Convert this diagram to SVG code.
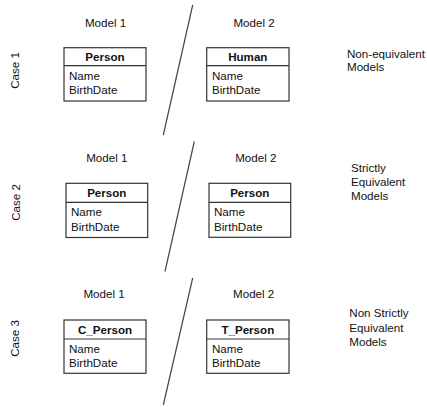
<svg xmlns="http://www.w3.org/2000/svg" width="427" height="407" viewBox="0 0 427 407">
<style>
text{font-family:"Liberation Sans",Arial,sans-serif;font-size:11.6px;fill:#111}
.b{font-weight:bold;text-anchor:middle}
.m{text-anchor:middle}
.box{fill:#fff;stroke:#333;stroke-width:1.2}
.sep{stroke:#333;stroke-width:1.2}
.div{stroke:#444;stroke-width:1.2}
</style>
<rect width="427" height="407" fill="#fff"/>
<g id="connectors">
<line class="div" x1="192.7" y1="5" x2="163.3" y2="135"/>
<line class="div" x1="194.3" y1="141.5" x2="165" y2="271.5"/>
<line class="div" x1="192.7" y1="278" x2="163.3" y2="405"/>
</g>
<g id="labels">
<text class="m" transform="translate(19,70.5) rotate(-90)">Case 1</text>
<text class="m" transform="translate(20,202.5) rotate(-90)">Case 2</text>
<text class="m" transform="translate(19,338.5) rotate(-90)">Case 3</text>
<text class="m" x="105.5" y="27">Model 1</text>
<text class="m" x="254" y="27">Model 2</text>
<text class="m" x="106.8" y="162">Model 1</text>
<text class="m" x="255.8" y="162">Model 2</text>
<text class="m" x="104" y="298">Model 1</text>
<text class="m" x="253.7" y="297.5">Model 2</text>
<text x="347" y="58">Non-equivalent</text>
<text x="347" y="71">Models</text>
<text x="351" y="172">Strictly</text>
<text x="351" y="186">Equivalent</text>
<text x="351" y="200">Models</text>
<text x="349.3" y="317">Non Strictly</text>
<text x="349.3" y="331.5">Equivalent</text>
<text x="349.3" y="345.5">Models</text>
</g>
<g id="n1a">
<rect class="box" x="64" y="47.7" width="82" height="53.3"/>
<line class="sep" x1="64" y1="65.7" x2="146" y2="65.7"/>
<text class="b" x="105" y="61">Person</text>
<text x="69" y="80">Name</text>
<text x="69" y="94">BirthDate</text>
</g>
<g id="n1b">
<rect class="box" x="206.7" y="47.7" width="82.3" height="53.3"/>
<line class="sep" x1="206.7" y1="65.7" x2="289" y2="65.7"/>
<text class="b" x="247.8" y="61">Human</text>
<text x="212" y="80">Name</text>
<text x="212" y="94">BirthDate</text>
</g>
<g id="n2a">
<rect class="box" x="66" y="183.3" width="81.7" height="54.2"/>
<line class="sep" x1="66" y1="202.3" x2="147.7" y2="202.3"/>
<text class="b" x="106.8" y="196.7">Person</text>
<text x="71" y="216">Name</text>
<text x="71" y="230.5">BirthDate</text>
</g>
<g id="n2b">
<rect class="box" x="209" y="183.3" width="81.7" height="54"/>
<line class="sep" x1="209" y1="202.3" x2="290.7" y2="202.3"/>
<text class="b" x="249.8" y="196.7">Person</text>
<text x="214" y="216">Name</text>
<text x="214" y="230.5">BirthDate</text>
</g>
<g id="n3a">
<rect class="box" x="64" y="320" width="82" height="53.3"/>
<line class="sep" x1="64" y1="339" x2="146" y2="339"/>
<text class="b" x="105" y="334">C_Person</text>
<text x="69" y="352.7">Name</text>
<text x="69" y="366.7">BirthDate</text>
</g>
<g id="n3b">
<rect class="box" x="206.7" y="320" width="82.3" height="53.3"/>
<line class="sep" x1="206.7" y1="339" x2="289" y2="339"/>
<text class="b" x="247.8" y="334">T_Person</text>
<text x="212" y="352.7">Name</text>
<text x="212" y="366.7">BirthDate</text>
</g>
</svg>
